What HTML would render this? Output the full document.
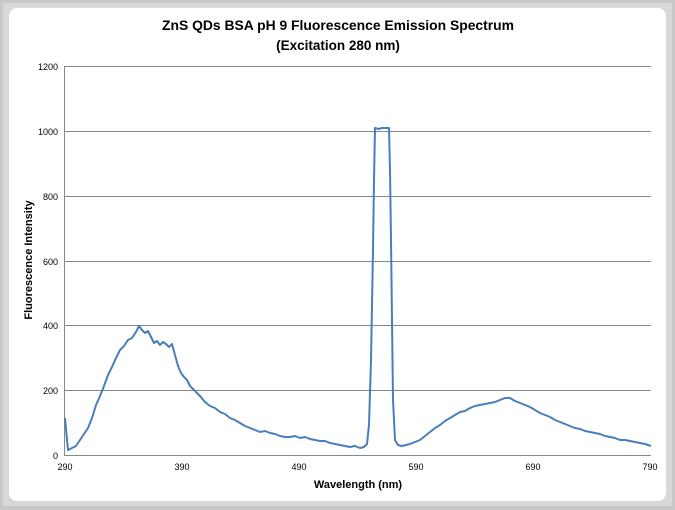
<!DOCTYPE html>
<html><head><style>
body{margin:0;background:#fff;}
</style></head><body>
<svg width="675" height="510" xmlns="http://www.w3.org/2000/svg" style="display:block;font-family:'Liberation Sans',sans-serif">
<rect x="0" y="0" width="675" height="510" fill="#c8c8c8"/>
<rect x="3" y="3" width="669" height="503" fill="#d8d8d8"/>
<rect x="9" y="8" width="657" height="493" rx="8" fill="#fff"/>
<g stroke="#888" stroke-width="1">
<line x1="65" y1="66.5" x2="651" y2="66.5"/>
<line x1="65" y1="131.5" x2="651" y2="131.5"/>
<line x1="65" y1="196.5" x2="651" y2="196.5"/>
<line x1="65" y1="261.5" x2="651" y2="261.5"/>
<line x1="65" y1="325.5" x2="651" y2="325.5"/>
<line x1="65" y1="390.5" x2="651" y2="390.5"/>
<line x1="65" y1="455.5" x2="651" y2="455.5"/>
<line x1="64.5" y1="66" x2="64.5" y2="456"/>
</g>
<g font-size="9" fill="#000" text-anchor="end">
<text x="58" y="70">1200</text><text x="58" y="135">1000</text><text x="58" y="200">800</text>
<text x="58" y="265">600</text><text x="58" y="329">400</text><text x="58" y="394">200</text><text x="58" y="459">0</text>
</g>
<g font-size="9" fill="#000" text-anchor="middle">
<text x="65" y="470">290</text><text x="182" y="470">390</text><text x="299" y="470">490</text>
<text x="416" y="470">590</text><text x="533" y="470">690</text><text x="650" y="470">790</text>
</g>
<text x="358" y="488" font-size="11" font-weight="bold" text-anchor="middle">Wavelength (nm)</text>
<text transform="translate(32,260) rotate(-90)" font-size="11" font-weight="bold" text-anchor="middle">Fluorescence Intensity</text>
<text x="338" y="30" font-size="13.5" font-weight="bold" text-anchor="middle" textLength="352" lengthAdjust="spacingAndGlyphs">ZnS QDs BSA pH 9 Fluorescence Emission Spectrum</text>
<text x="338" y="50" font-size="13.5" font-weight="bold" text-anchor="middle">(Excitation 280 nm)</text>
<polyline fill="none" stroke="#4a7ebb" stroke-width="2" stroke-linejoin="round" points="
65,418 67,440 68,450 72,448 76,446 80,440 84,434 88,428 92,418 96,405 100,396 104,386 108,375 112,367 116,358 120,350 124,346 128,340 132,338 136,332 139,326 142,330 145,333 148,331 151,337 154,343 157,341 160,345 163,342 166,344 169,347 172,344 175,355 178,366 181,373 184,377 187,380 190,386 195,391 200,396 205,402 210,406 215,408 220,412 225,414 230,418 235,420 240,423 245,426 250,428 255,430 260,432 265,431 270,433 275,434 280,436 285,437 290,437 295,436 300,438 305,437 310,439 315,440 320,441 325,441 330,443 335,444 340,445 345,446 350,447 355,446 360,448 364,447 367,444 369,425 371,360 373,250 374,180 375,128 379,129 382,128 386,128 389,128 390,170 391,240 392,320 393,400 395,440 398,445 402,446 406,445 410,444 415,442 420,440 425,436 430,432 435,428 440,425 445,421 450,418 455,415 460,412 465,411 470,408 475,406 480,405 485,404 490,403 495,402 500,400 505,398 510,398 515,401 520,403 525,405 530,407 535,410 540,413 545,415 550,417 555,420 560,422 565,424 570,426 575,428 580,429 585,431 590,432 595,433 600,434 605,436 610,437 615,438 620,440 625,440 630,441 635,442 640,443 645,444 651,446"/>
</svg>
</body></html>
